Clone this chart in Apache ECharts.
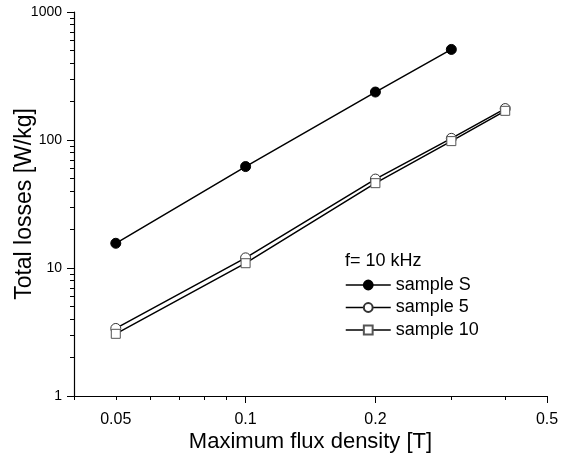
<!DOCTYPE html>
<html>
<head>
<meta charset="utf-8">
<script src="https://cdn.jsdelivr.net/npm/echarts@6/dist/echarts.min.js"></script>
<style>
  html, body { margin: 0; padding: 0; background: #fff; }
  #chart { width: 583px; height: 458px; }
</style>
</head>
<body>
<div id="chart"></div>
<script>
/* ── data ── */
var fluxB    = [0.05, 0.1, 0.2, 0.3, 0.4];
var sampleS  = [15.6, 62, 237, 510];
var sample5  = [3.37, 12.0, 49.5, 103, 176];
var sample10 = [3.06, 10.9, 46, 98, 169];

var xMajorTicks = [0.1, 0.2, 0.5];
var xMinorTicks = [0.04, 0.05, 0.06, 0.07, 0.08, 0.09, 0.3, 0.4];
var xLabels     = [0.05, 0.1, 0.2, 0.5];
var yMajorTicks = [1, 10, 100, 1000];
var yMinorTicks = [2, 3, 4, 5, 6, 7, 8, 9, 20, 30, 40, 50, 60, 70, 80, 90, 200, 300, 400, 500, 600, 700, 800, 900];
var yLabels     = [1, 10, 100, 1000];

var FONT = 'Liberation Sans, Arial, sans-serif';
var X_MIN = 0.04, X_MAX = 0.5, Y_MIN = 1, Y_MAX = 1000;

function pairs(xs, ys) {
  return ys.map(function(v, i) { return [xs[i], v]; });
}

// tick-only log axis over the same range as the main one (long/short ticks)
function tickAxis(pos, min, max, ticks, len) {
  return {
    type: 'log', logBase: 10, min: min, max: max, position: pos, offset: 0, z: 10,
    axisLine: { show: false },
    axisTick: { show: true, inside: false, length: len, customValues: ticks,
      lineStyle: { color: '#000', width: 1 } },
    axisLabel: { show: false }, splitLine: { show: false }
  };
}

var ch = echarts.init(document.getElementById('chart'), null, { renderer: 'canvas' });

ch.setOption({
  backgroundColor: '#fff',
  animation: false,
  textStyle: { fontFamily: FONT, color: '#000' },
  grid: { left: 74, right: 36, top: 12, bottom: 62, containLabel: false, outerBoundsMode: 'none' },
  title: {
    text: 'f= 10 kHz', left: 345, top: 252, padding: 0,
    textStyle: { fontFamily: FONT, fontSize: 18, fontWeight: 'normal', color: '#000' }
  },
  legend: {
    orient: 'vertical', left: 345, top: 276, padding: 0,
    itemWidth: 45, itemHeight: 11, itemGap: 4.5,
    lineStyle: { width: 1.5 },
    textStyle: { fontFamily: FONT, fontSize: 18, lineHeight: 18, color: '#000', padding: [0, 0, 0, 0] },
    data: ['sample S', 'sample 5', 'sample 10']
  },
  xAxis: [
    { type: 'log', logBase: 10, min: X_MIN, max: X_MAX, position: 'bottom',
      name: 'Maximum flux density [T]', nameLocation: 'middle', nameGap: 35, nameMoveOverlap: false,
      nameTextStyle: { fontFamily: FONT, fontSize: 22, color: '#000' },
      axisLine: { show: true, lineStyle: { color: '#000', width: 1.2 } },
      axisTick: { show: false },
      axisLabel: { show: true, margin: 16, fontSize: 16, color: '#000', fontFamily: FONT, customValues: xLabels,
        formatter: function(v) { return String(+(+v).toPrecision(3)); } },
      splitLine: { show: false }
    },
    tickAxis('bottom', X_MIN, X_MAX, xMajorTicks, 7),
    tickAxis('bottom', X_MIN, X_MAX, xMinorTicks.concat(xMajorTicks), 4)
  ],
  yAxis: [
    { type: 'log', logBase: 10, min: Y_MIN, max: Y_MAX, position: 'left',
      name: 'Total losses [W/kg]', nameLocation: 'middle', nameGap: 38, nameMoveOverlap: false,
      nameTextStyle: { fontFamily: FONT, fontSize: 23, color: '#000' },
      axisLine: { show: true, lineStyle: { color: '#000', width: 1.2 } },
      axisTick: { show: false },
      axisLabel: { show: true, margin: 12, fontSize: 14, color: '#000', fontFamily: FONT, customValues: yLabels,
        formatter: function(v) { return String(Math.round(v)); } },
      splitLine: { show: false }
    },
    tickAxis('left', Y_MIN, Y_MAX, yMajorTicks, 7),
    tickAxis('left', Y_MIN, Y_MAX, yMinorTicks, 4)
  ],
  series: [
    { name: 'sample S', type: 'line', data: pairs(fluxB, sampleS),
      symbol: 'circle', symbolSize: 10,
      lineStyle: { color: '#000', width: 1.5 },
      itemStyle: { color: '#000', borderColor: '#000', borderWidth: 1 }
    },
    { name: 'sample 5', type: 'line', data: pairs(fluxB, sample5),
      symbol: 'circle', symbolSize: 10,
      lineStyle: { color: '#000', width: 1.5 },
      itemStyle: { color: '#fff', borderColor: '#333', borderWidth: 1 }
    },
    { name: 'sample 10', type: 'line', data: pairs(fluxB, sample10),
      symbol: 'rect', symbolSize: 9,
      lineStyle: { color: '#000', width: 1.5 },
      itemStyle: { color: '#fff', borderColor: '#555', borderWidth: 1 }
    }
  ]
});
</script>
</body>
</html>
